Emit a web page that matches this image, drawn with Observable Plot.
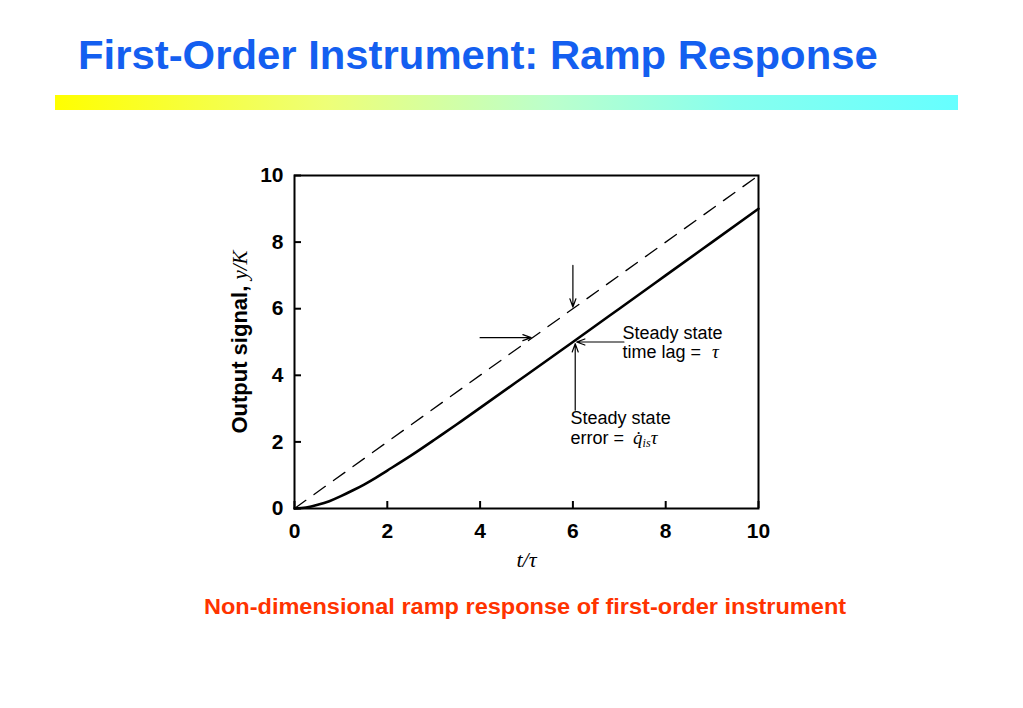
<!DOCTYPE html>
<html>
<head>
<meta charset="utf-8">
<script src="https://cdn.jsdelivr.net/npm/d3@7"></script>
<script src="https://cdn.jsdelivr.net/npm/@observablehq/plot@0.6"></script>
<style>
  html, body { margin: 0; padding: 0; background: #fff; }
  body { width: 1023px; height: 708px; position: relative; overflow: hidden; font-family: "Liberation Sans", Arial, sans-serif; }
  #title { position: absolute; left: 78px; top: 33px; font-size: 40px; font-weight: bold; color: #145ff0; white-space: nowrap; transform-origin: left top; transform: scaleX(1.046); }
  #bar { position: absolute; left: 55px; top: 95px; width: 903px; height: 15px; background: linear-gradient(to right, #ffff00 0%, #eeff77 30%, #bbffcc 55%, #88ffee 75%, #66ffff 100%); }
  #chart { position: absolute; left: 0; top: 150px; }
  #caption { position: absolute; left: 0; width: 1050px; text-align: center; top: 594px; font-size: 22px; font-weight: bold; color: #ff3300; white-space: nowrap; transform: scaleX(1.07); transform-origin: center top; }
</style>
</head>
<body>
<div id="title">First-Order Instrument: Ramp Response</div>
<div id="bar"></div>
<div id="chart"></div>
<div id="caption">Non-dimensional ramp response of first-order instrument</div>
<script>
// Data
const tValues = [0, 0.25, 0.5, 0.75, 1, 1.25, 1.5, 1.75, 2, 2.5, 3, 3.5, 4, 5, 6, 7, 8, 9, 10];
const responseValues = [0, 0.03, 0.11, 0.22, 0.37, 0.54, 0.72, 0.92, 1.14, 1.58, 2.05, 2.53, 3.02, 4.01, 5.0, 6.0, 7.0, 8.0, 9.0];
const rampT = [0, 10];
const rampY = [0, 10];
const xTicks = [0, 2, 4, 6, 8, 10];
const yTicks = [0, 2, 4, 6, 8, 10];
const arrowX1 = [6, 4, 7.1, 6.05];
const arrowY1 = [7.3, 5.13, 5.0, 2.95];
const arrowX2 = [6, 5.1, 6.08, 6.05];
const arrowY2 = [6.05, 5.13, 5.0, 4.95];
const noteText = ["Steady state", "time lag = ", "Steady state", "error = "];
const noteX = [7.07, 7.07, 5.95, 5.95];
const noteY = [5.25, 4.68, 2.7, 2.1];

const response = tValues.map((t, i) => ({t, y: responseValues[i]}));
const ramp = rampT.map((t, i) => ({t, y: rampY[i]}));
const arrows = arrowX1.map((x1, i) => ({x1, y1: arrowY1[i], x2: arrowX2[i], y2: arrowY2[i]}));
const notes = noteText.map((text, i) => ({text, x: noteX[i], y: noteY[i], cls: i === 1 ? "lag" : i === 3 ? "err" : "plain"}));

const W = 1023, H = 480;
const plot = Plot.plot({
  width: W, height: H,
  marginLeft: 294, marginRight: 265, marginTop: 25, marginBottom: 122,
  style: {fontFamily: "'Liberation Sans', Arial, sans-serif", fontSize: "21px", fontWeight: "bold", color: "#000", background: "transparent"},
  x: {domain: [0, 10]},
  y: {domain: [0, 10]},
  marks: [
    Plot.axisX(xTicks, {tickSize: 7, dy: -7, tickFormat: () => "", strokeWidth: 2}),
    Plot.axisX(xTicks, {tickSize: 0, tickPadding: 15, fontSize: 21, fontWeight: "bold", label: null}),
    Plot.axisY(yTicks, {tickSize: 7, dx: 7, tickFormat: () => "", strokeWidth: 2}),
    Plot.axisY(yTicks, {tickSize: 0, tickPadding: 11, fontSize: 21, fontWeight: "bold", label: null}),
    Plot.line(ramp, {x: "t", y: "y", stroke: "#000", strokeWidth: 1.3, strokeDasharray: "14,10"}),
    Plot.line(response, {x: "t", y: "y", stroke: "#000", strokeWidth: 2.6, curve: "natural"}),
    Plot.arrow(arrows, {x1: "x1", y1: "y1", x2: "x2", y2: "y2", stroke: "#000", strokeWidth: 1.2, headLength: 11, headAngle: 40}),
    Plot.text(notes.filter(d => d.cls === "plain"), {x: "x", y: "y", text: "text", textAnchor: "start", fontSize: 18, fontWeight: "normal", fill: "#000"}),
    Plot.text(notes.filter(d => d.cls === "lag"), {x: "x", y: "y", text: "text", textAnchor: "start", fontSize: 18, fontWeight: "normal", fill: "#000", className: "lag"}),
    Plot.text(notes.filter(d => d.cls === "err"), {x: "x", y: "y", text: "text", textAnchor: "start", fontSize: 18, fontWeight: "normal", fill: "#000", className: "err"}),
    Plot.text(["Output signal, "], {frameAnchor: "left", textAnchor: "middle", rotate: -90, dx: -55, fontSize: 22, fontWeight: "bold", fill: "#000", className: "ylab"}),
    Plot.text(["t/"], {frameAnchor: "bottom", textAnchor: "middle", dy: 58, fontSize: 22, fontWeight: "normal", fontStyle: "italic", fontFamily: "'Liberation Serif', 'Times New Roman', serif", fill: "#000", className: "xlab"}),
    Plot.frame({stroke: "#000", strokeWidth: 2})
  ]
});
document.getElementById("chart").appendChild(plot);

const svg = d3.select(plot);
const serif = "'Liberation Serif', 'Times New Roman', serif";
svg.selectAll("g.lag text").append("tspan")
  .attr("font-family", serif).attr("font-style", "italic").attr("font-size", 19).attr("dx", 6).text("τ");
const err = svg.selectAll("g.err text");
err.append("tspan").attr("font-family", serif).attr("font-style", "italic").attr("font-size", 19).attr("dx", 4).text("q\u0307");
err.append("tspan").attr("font-family", serif).attr("font-style", "italic").attr("font-size", 12).attr("dy", 3).text("is");
err.append("tspan").attr("font-family", serif).attr("font-style", "italic").attr("font-size", 19).attr("dy", -3).text("τ");
svg.selectAll("g.ylab text").append("tspan")
  .attr("font-family", serif).attr("font-style", "italic").attr("font-weight", "normal").attr("font-size", 21).text("y/K");
svg.selectAll("g.xlab text").append("tspan").text("τ");
</script>
</body>
</html>
